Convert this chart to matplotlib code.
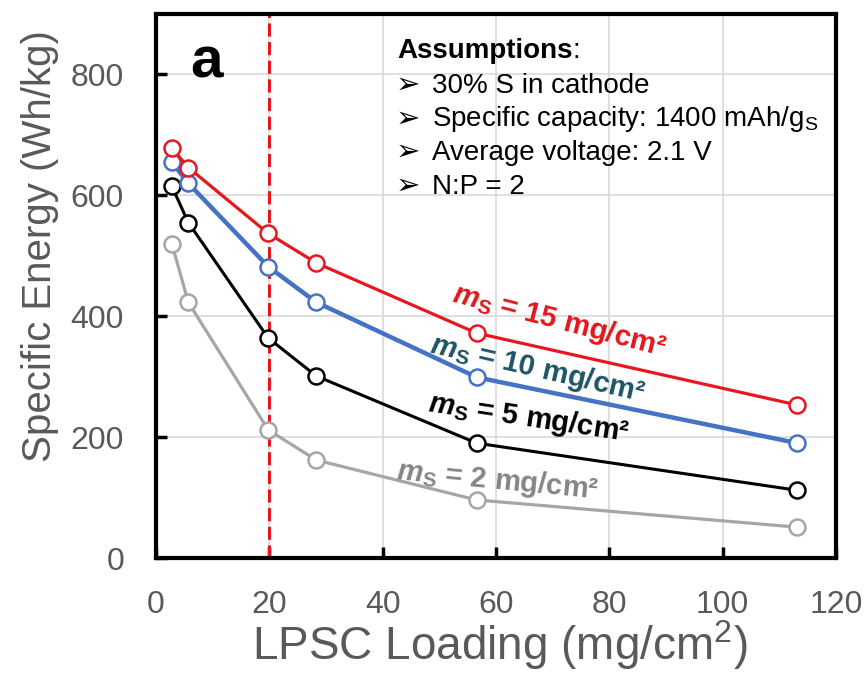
import matplotlib
matplotlib.use("Agg")
import matplotlib.pyplot as plt

plt.rcParams['font.family'] = ['Liberation Sans', 'DejaVu Sans']
plt.rcParams['mathtext.fontset'] = 'custom'
plt.rcParams['mathtext.rm'] = 'Liberation Sans'
plt.rcParams['mathtext.it'] = 'Liberation Sans:italic'
plt.rcParams['mathtext.bf'] = 'Liberation Sans:bold'
plt.rcParams['mathtext.bfit'] = 'Liberation Sans:bold:italic'

# LPSC loading (mg/cm2)
loading = [2.8, 5.7, 19.8, 28.3, 56.6, 113.2]

# specific energy (Wh/kg) for each sulfur loading
e_15 = [678, 646, 537, 488, 372, 253]
e_10 = [655, 620, 482, 423, 299, 190]
e_5 = [615, 555, 364, 301, 190, 112]
e_2 = [520, 423, 212, 162, 96, 51]

labels = ['15', '10', '5', '2']
x_ticks = [0, 20, 40, 60, 80, 100, 120]
y_ticks = [0, 200, 400, 600, 800]

W, H = 867, 680
fig = plt.figure(figsize=(W / 100, H / 100), dpi=100)
ax = fig.add_axes([156 / W, 1 - 558 / H, 680 / W, 544 / H])


def px(x, y):
    # figure pixel (from top-left) -> figure fraction
    return x / W, 1 - y / H


ax.grid(True, color='#d9d9d9', linewidth=1.2, zorder=0)
ax.axvline(20, color='#e8161e', linewidth=2.2, linestyle=(0, (4.3, 1.8)),
           zorder=2)

series = [
    (e_2, '#a6a6a6', 2.3),
    (e_5, 'black', 2.2),
    (e_10, '#4472c4', 3.2),
    (e_15, '#e8161e', 2.3),
]
for vals, col, lw in series:
    ax.plot(loading, vals, color=col, linewidth=lw, marker='o', markersize=11.5,
            markerfacecolor='white', markeredgecolor=col, markeredgewidth=1.8,
            zorder=3)

# curve labels
lab_style = dict(ha='center', va='baseline', rotation_mode='anchor',
                 fontsize=21, fontweight='bold')
ms = r'$\mathbfit{m}_\mathbf{S}$ = '
ax.text(70.8, 379, ms + labels[0] + ' mg/cm²', color='#e3161b',
        rotation=-14.5, **lab_style)
ax.text(67.0, 299, ms + labels[1] + ' mg/cm²', color='#1d5566',
        rotation=-13, **lab_style)
ax.text(65.5, 218, ms + labels[2] + ' mg/cm²', color='black',
        rotation=-8.5, **lab_style)
ax.text(60.2, 115, ms + labels[3] + ' mg/cm²', color='#858585',
        rotation=-5.5, **lab_style)

ax.set_xlim(0, 120)
ax.set_ylim(0, 900)
ax.set_xticks(x_ticks)
ax.set_yticks(y_ticks)
ax.tick_params(direction='in', length=8, width=2.5, colors='black',
               labelcolor='#595959', labelsize=23, pad=23)
for sp in ax.spines.values():
    sp.set_linewidth(3)
    sp.set_color('black')

fig.text(*px(500, 645), 'LPSC Loading (mg/cm$^\\mathregular{2}$)', fontsize=33,
         color='#595959', ha='center', va='center')
fig.text(*px(40, 246), 'Specific Energy (Wh/kg)', fontsize=29,
         color='#595959', ha='center', va='center', rotation=90)

# panel letter
fig.text(*px(190, 77), 'a', fontsize=42, fontweight='bold',
         ha='left', va='baseline')

# assumptions block
head = fig.text(*px(397, 58), 'Assumptions', fontsize=20, fontweight='bold',
                va='baseline')
ax.annotate(':', xy=(1, 0), xycoords=head, fontsize=20, va='bottom',
            annotation_clip=False)
lines = ['30% S in cathode',
         'Specific capacity: 1400 mAh/g$_\\mathregular{S}$',
         'Average voltage: 2.1 V',
         'N:P = 2']
for i, t in enumerate(lines):
    y = 93 + 33.5 * i
    fig.text(*px(396, y), '➢', fontsize=21, va='baseline',
             family=['DejaVu Sans'])
    fig.text(*px(432, y), t, fontsize=20, va='baseline')

fig.savefig('out.png', dpi=100)
